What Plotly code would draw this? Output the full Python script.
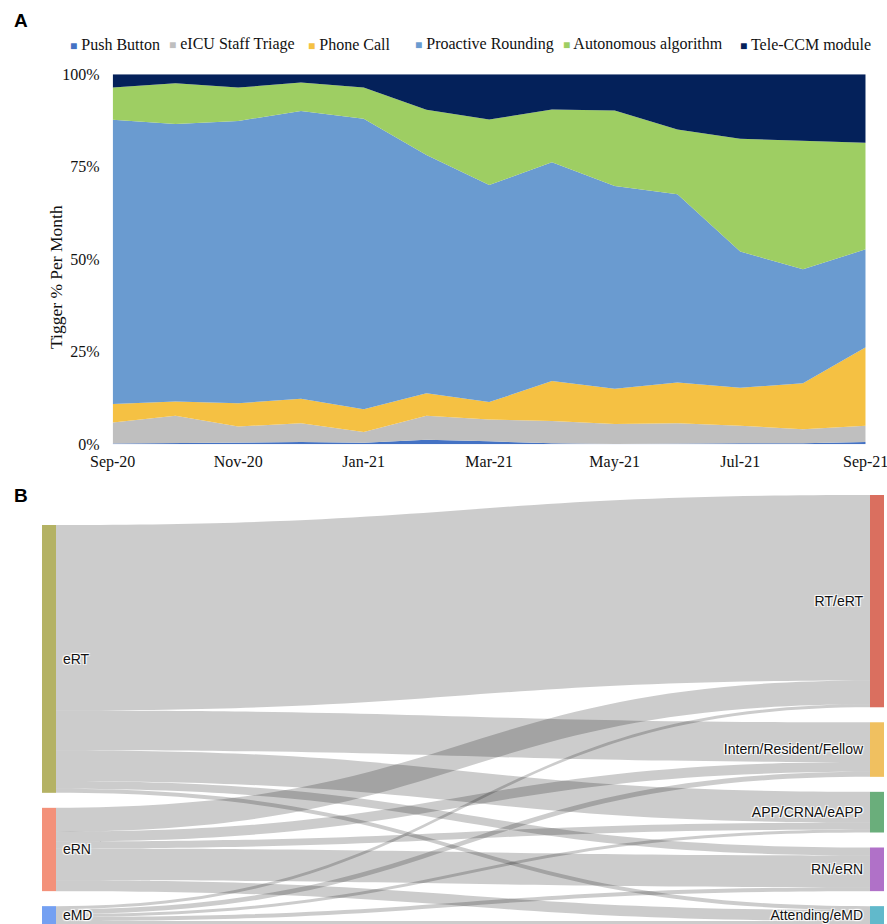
import plotly.graph_objects as go

# ---- Panel A: monthly trigger mix (percent of all triggers) ----
months = ["Sep-20", "Oct-20", "Nov-20", "Dec-20", "Jan-21", "Feb-21", "Mar-21",
          "Apr-21", "May-21", "Jun-21", "Jul-21", "Aug-21", "Sep-21"]
tick_months = ["Sep-20", "Nov-20", "Jan-21", "Mar-21", "May-21", "Jul-21", "Sep-21"]
pct_ticks = [0, 25, 50, 75, 100]
pct_tick_labels = ["0%", "25%", "50%", "75%", "100%"]

push_button = [0.2, 0.4, 0.4, 0.6, 0.4, 1.2, 0.8, 0.3, 0.1, 0.3, 0.3, 0.3, 0.6]
staff_triage = [5.7, 7.3, 4.4, 5.1, 2.9, 6.5, 5.9, 6.0, 5.4, 5.4, 4.7, 3.8, 4.4]
phone_call = [5.0, 3.9, 6.3, 6.6, 6.2, 6.1, 4.7, 10.8, 9.5, 11.0, 10.3, 12.4, 21.2]
proactive_rounding = [76.8, 75.0, 76.3, 77.8, 78.5, 64.4, 58.7, 59.1, 54.8, 50.9, 36.8, 30.8, 26.5]
autonomous_algorithm = [8.7, 11.0, 9.0, 7.7, 8.4, 12.2, 17.7, 14.3, 20.4, 17.5, 30.5, 34.7, 28.8]
tele_ccm_module = [3.6, 2.4, 3.6, 2.2, 3.6, 9.6, 12.2, 9.5, 9.8, 14.9, 17.4, 18.0, 18.5]

series_names = ["Push Button", "eICU Staff Triage", "Phone Call",
                "Proactive Rounding", "Autonomous algorithm", "Tele-CCM module"]
series_values = [push_button, staff_triage, phone_call,
                 proactive_rounding, autonomous_algorithm, tele_ccm_module]
series_colors = ["#4472C4", "#BFBFBF", "#F5C143", "#6A9BD0", "#9ECE63", "#04215A"]

# ---- Panel B: trigger source -> responding clinician ----
source_labels = ["eRT", "eRN", "eMD"]
target_labels = ["RT/eRT", "Intern/Resident/Fellow", "APP/CRNA/eAPP", "RN/eRN", "Attending/eMD"]
node_colors = ["#B4B264", "#F3917A", "#74A0F2",
               "#DA6F5F", "#F0C060", "#6AAE7B", "#B071C8", "#61B9CB"]
link_source = [0, 0, 0, 0, 0, 1, 1, 1, 1, 1, 2, 2, 2, 2, 2]
link_target = [3, 4, 5, 6, 7, 3, 4, 5, 6, 7, 3, 4, 5, 6, 7]
link_value = [187, 40, 31, 8, 4, 24, 10, 7, 32, 11, 3, 5, 3, 4, 3]

W, H = 887, 924
serif = "Liberation Serif, Times New Roman, serif"
sans = "Liberation Sans, Arial, Helvetica, sans-serif"

# a non-breaking space keeps a little air between each node and its label
NBSP = "\u00a0"
node_labels = [NBSP + s for s in source_labels] + [t + NBSP for t in target_labels]

fig = go.Figure()

for name, vals, col in zip(series_names, series_values, series_colors):
    fig.add_trace(go.Scatter(
        x=months, y=vals, name=name, mode="lines",
        stackgroup="trig", groupnorm="percent",
        line=dict(width=0, color=col), fillcolor=col,
        showlegend=False, xaxis="x", yaxis="y",
    ))

fig.add_trace(go.Sankey(
    domain=dict(x=[42 / W, 884 / W], y=[0, 1 - 495 / H]),
    arrangement="snap",
    node=dict(label=node_labels, color=node_colors, pad=15, thickness=14,
              line=dict(width=0)),
    link=dict(source=link_source, target=link_target, value=link_value,
              color="rgba(0,0,0,0.2)"),
    textfont=dict(family=sans, size=14, color="#111"),
))

fig.update_layout(
    template="none",
    width=W, height=H,
    margin=dict(l=0, r=0, t=0, b=0, pad=0, autoexpand=False),
    paper_bgcolor="white", plot_bgcolor="white",
    showlegend=False,
    xaxis=dict(
        domain=[112.7 / W, 865.7 / W], type="category",
        categoryorder="array", categoryarray=months,
        range=[0, 12], tickmode="array", tickvals=tick_months, ticktext=tick_months,
        showgrid=False, zeroline=False, showline=False, ticks="", automargin=False,
        tickfont=dict(family=serif, size=16, color="#111"),
        ticklabelstandoff=6,
    ),
    yaxis=dict(
        domain=[1 - 444.3 / H, 1 - 74.3 / H], range=[0, 100],
        tickmode="array", tickvals=pct_ticks, ticktext=pct_tick_labels,
        showgrid=False, zeroline=False, showline=False, ticks="", automargin=False,
        tickfont=dict(family=serif, size=16, color="#111"),
        ticklabelstandoff=12,
    ),
)

# Axis title and panel letters
fig.add_annotation(text="Tigger % Per Month", x=56 / W, y=1 - 277 / H,
                   xref="paper", yref="paper", textangle=-90, showarrow=False,
                   xanchor="center", yanchor="middle",
                   font=dict(family=serif, size=17.5, color="#111"))
fig.add_annotation(text="<b>A</b>", x=12 / W, y=1 - 20 / H, xref="paper", yref="paper",
                   showarrow=False, xanchor="left", yanchor="middle",
                   font=dict(family=sans, size=19, color="#000"))
fig.add_annotation(text="<b>B</b>", x=12 / W, y=1 - 495 / H, xref="paper", yref="paper",
                   showarrow=False, xanchor="left", yanchor="middle",
                   font=dict(family=sans, size=19, color="#000"))

# Legend row for panel A: colored square followed by the series name
legend_x = [68, 167, 306, 413, 561, 738]
for name, col, lx in zip(series_names, series_colors, legend_x):
    fig.add_annotation(
        text=f'<span style="color:{col};font-size:12px">■</span> {name}',
        x=lx / W, y=1 - 44 / H, xref="paper", yref="paper",
        showarrow=False, xanchor="left", yanchor="middle",
        font=dict(family=serif, size=16, color="#111"),
    )

fig.write_html("out.html")
